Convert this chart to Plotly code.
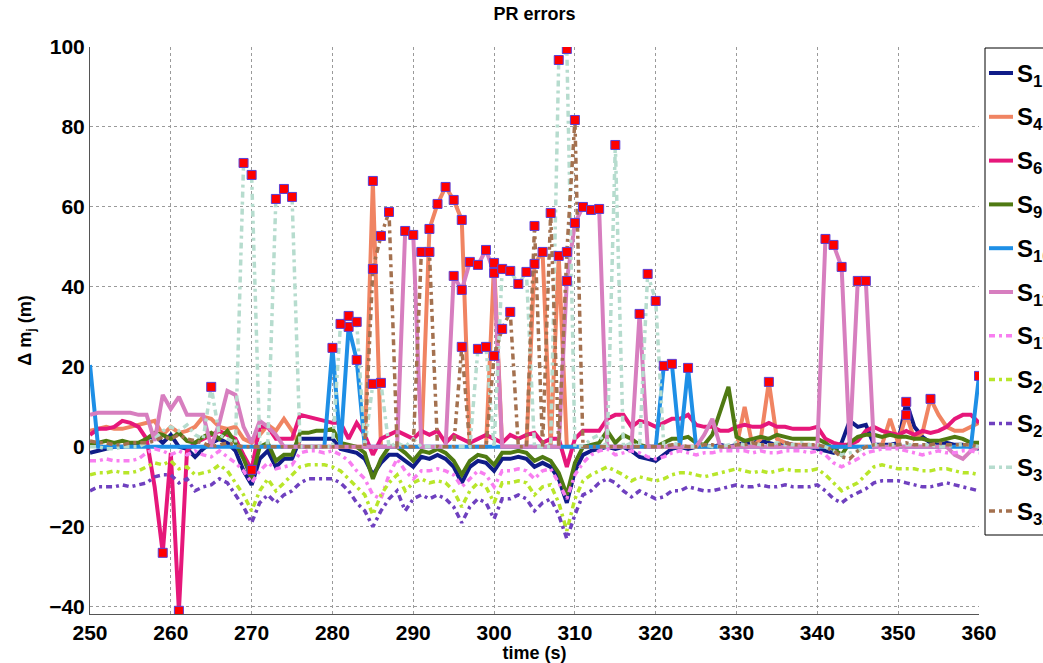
import plotly.graph_objects as go

t = list(range(250, 361))

S1 = [-1.5, -1, -0.5, 0, 0, 0.5, 1, 1.5, 3, 1,
      3, 0, -0.5, -2.5, -0.5, 1, 2, 1, -1, -6,
      -9.5, -3, -1, -5, -3, -3, 2, 2, 2, 2,
      2, -0.5, -1, -1.5, -3, -7, -4, -2, -2, -3.5,
      -5, -2.5, -3, -2, -3, -5, -9, -5, -3.5, -4,
      -6, -3, -3, -2.5, -3, -5, -4, -5, -8, -14,
      -6, -2, -1, -0.5, 0, -0.5, 0, -1, -2.5, -3,
      -3.5, -2, -0.5, 0, -0.5, 0, 0.5, 0, 0.5, 0,
      0.5, 1, 1, 1.5, 1, 0.5, 1, 0.5, 0, 0,
      -0.5, -1, -1.5, 1, 6.5, 5, 5.5, 0.5, 0.5, 0.5,
      1, 11.25, 5, 2.5, 1, 0.5, 1, 0.5, 0.5, 0,
      -0.5]

S4 = [4, 4.5, 5, 4.5, 4.5, 5, 5.5, 6, 6.5, 3,
      5, 3.5, 4, 5, 7.5, 7, 5, 4.5, 5, 2,
      1, 3, 5.5, 4, 7, 4, 0, 0, 0, 0,
      0, 0, 0, 0, 0, 66.5, 0, 0, 0, 0,
      0, 0, 54.5, 60.75, 65, 61.75, 56.75, 0, 0, 0,
      46, 0, 0, 0, 0, 45.75, 48.75, 0, 47.75, 0,
      0, 0, 0, 0, 0, 0, 0, 0, 0, 0,
      0, 0, 0, 0, 0, 0, 0, 0, 0, 0,
      0, 10, 0, 2, 16.25, 2, 1, 0.5, 0.5, 0.5,
      0, 0, 0, 0, 0, 0, 0, 0, 0.5, 7,
      1, 8, 2, 3.5, 12, 8, 5, 4, 4, 5,
      6]

S6 = [3, 4.5, 4.5, 5, 6.5, 6, 5, 2, -10, -26.5,
      -1.5, -41, -1, 1, 2, 3, 4, 3, 2, -2,
      -5.75, 5, 5, 2, 2, 2, 8, 7.5, 7, 6.5,
      6, 6, 2, 6, 3, -2, 2, 3, 4, 3,
      2, 4, 3, 4, 1, 3, 2, 1, 2, 3,
      2, 1, 3, 2, 3, 3.5, 1, 2, 2, -5,
      2, 4, 4, 4, 7, 8, 8, 5, 6.5, 6,
      5, 6, 7, 7, 8, 5.5, 5, 5, 4, 4,
      5, 5.5, 5, 5, 6, 5, 5, 4.5, 4.5, 4.5,
      5, 2, 1, 0.5, 0.5, 1.5, 4, 5, 4, 3.5,
      3, 4, 3, 4, 3.5, 4, 5, 7, 8, 8,
      6]

S9 = [0.5, 1, 1.5, 1, 1.5, 1, 1, 2, 3.5, 3,
      2, 3.5, 1.5, 1, 2.5, 3.5, 2, 4, 1, -3,
      -8, 0, 1, -3.5, -2, -2, 3.5, 3.5, 4, 4,
      4.5, 1, 0.5, 0, -1.5, -8, -3, 0, 0, -1.5,
      -3.5, -1, -1.5, -0.5, -1.5, -3.5, -7, -3.5, -2, -2.5,
      -4.5, -1.5, -1.5, -1, -1.5, -3.5, -2.5, -3.5, -6.5, -12,
      -4, 0, 0.5, 1, 4, 1, 3, 2, 0.5, 0,
      0, 1, 2, 2, 2.5, 1, 0.5, 3, 9, 15,
      2.5, 1.5, 2, 2.5, 2, 3, 2.5, 2, 2, 2,
      2, 1, -0.5, -2, 1, 2.5, 3, 3, 2.5, 3,
      2.5, 2.5, 2, 2, 1.5, 1.5, 2, 2.5, 2, 1,
      1]

S10 = [20.5, 0, 0, 0, 0, 0, 0, 0, 0, 0,
       0, 0, 0, 0, 0, 0, 0, 0, 0, 0,
       0, 0, 0, 0, 0, 0, 0, 0, 0, 0,
       24.75, 0, 30, 21.75, 0, 0, 0, 0, 0, 0,
       0, 0, 0, 0, 0, 0, 0, 0, 0, 0,
       0, 0, 0, 0, 0, 0, 0, 0, 0, 0,
       0, 0, 0, 0, 0, 0, 0, 0, 0, 0,
       0, 20.25, 20.75, 0, 19.75, 0, 0, 0, 0, 0,
       0, 0, 0, 0, 0, 0, 0, 0, 0, 0,
       0, 0, 0, 0, 0, 0, 0, 0, 0, 0,
       0, 0, 0, 0, 0, 0, 0, 0, 0, 0,
       17.75]

S11 = [8, 8.5, 8.5, 8.5, 8.5, 8.5, 8, 8, 1.5, 13,
       9.5, 12.5, 8, 8, 8, 0, 6, 14, 13, 5,
       1, 6.5, 5, 3, 0, 0, 0, 0, 0, 0,
       0, 0, 0, 0, 0, 0, 0, 0, 0, 54,
       53, 0, 0, 0, 0, 42.75, 39.25, 46.25, 45.5, 49.25,
       43.5, 0, 0, 0, 0, 0, 0, 0, 0, 41.5,
       56, 60, 59.25, 59.5, 0, 0, 0, 0, 33.25, 0,
       0, 0, 0, 0, 0, 0, 3, 7, 0, 0,
       0, 0, 0, 0, 0, 0, 0, 0, 0, 0,
       0, 52, 50.5, 45, 0, 41.5, 41.5, 0, 0, 0,
       0, 0, 0, 0, 0, 0, 0, -2, -3, -1,
       0]

S17 = [-3.5, -3.5, -3, -3.5, -3.5, -3.5, -3, -1.5, -0.5, -1,
       -2, -1, -2, -1, -2, -2.5, -1, -2.5, -4, -6,
       -9, -6, -4, -5.5, -5, -4.5, -1.5, -1, -1, -1.5,
       -1, -2, -3.5, -6, -8, -12, -13, -7, -3, -6,
       -8, -6, -6, -5.5, -6, -7, -10, -8, -6, -7,
       -10, -6, -6, -5.5, -6, -8, -6, -5.5, -9, -13,
       -7, -4, -2, -1, -0.5, -2, -1.5, -1, -1.5, -2.5,
       -3, -2.5, -1.5, -1, -1.5, -2, -1.5, -1.5, -1, -1,
       -1, -1, -1.5, -1, -1.5, -1.5, -1, -1, -1, -1.5,
       -1, -2, -4, -5, -4, -3, -1.5, -1, -0.5, -0.5,
       -0.5, -1, -1.5, -2, -1.5, -1, -1.5, -1.5, -1, -1,
       -1.5]

S20 = [-7, -6.5, -6.5, -6, -6.5, -6.5, -6, -5, -4, -4.5,
       -3.5, -5.5, -5, -7, -6.5, -6, -4.5, -6, -9, -12,
       -16, -11, -8, -11, -9, -7, -5, -4.5, -4.5, -4.5,
       -5, -6, -8, -10, -12, -17, -12, -9, -7, -11,
       -9, -8, -9, -8.5, -9, -11, -15, -11, -9, -10,
       -14, -9, -9, -8.5, -9, -12, -10, -9.5, -14, -21,
       -13, -8.5, -7, -6, -5, -6, -7, -8.5, -7.5, -8,
       -8.5, -8, -7, -6.5, -6.5, -7, -7.5, -7, -6.5, -6,
       -5.5, -6, -6.5, -6, -6.5, -6, -5.5, -6, -6, -6,
       -5.5, -7, -9, -11, -10, -9, -7, -5, -4.5, -5,
       -5.5, -5.5, -5.5, -6, -6, -5.5, -5.5, -6, -6.5, -6.5,
       -7]

S23 = [-11, -10, -10, -10, -9.5, -10, -9.5, -9, -7.5, -7,
       -7, -9, -8, -11, -10, -9.5, -8, -9, -12, -15,
       -19, -14, -12, -14, -12, -11, -9, -8, -8, -8,
       -8, -9, -11, -14, -16, -20, -16, -13, -11, -16,
       -13, -12, -13, -12, -13, -15, -19, -15, -13, -14,
       -18, -13, -13, -12, -13, -16, -14, -13, -17, -23,
       -17, -12, -11, -9, -8, -9, -11, -12.5, -11, -12,
       -13, -12.5, -11, -11, -10, -10.5, -11, -11, -10.5, -10,
       -9.5, -10, -10, -9.5, -10, -10, -9.5, -10, -10, -10,
       -9.5, -11, -13, -14, -12.5, -11.5, -10.5, -9, -8.5, -8.5,
       -8.5, -9, -9.5, -10, -10, -9.5, -9, -9.5, -10, -10.5,
       -11]

S31 = [0, 0, -0.5, -0.5, 0, 0, 0, 1, 2, 4,
       5, 4, 5.5, 3, 2, 15, 3, 2, 1, 71,
       68, 1, 1, 62, 64.5, 62.5, 0, 0, 0, 0,
       0, 30.75, 32.75, 31.25, 0, 15.75, 16, 0, 1, 0,
       2, 0, 0, 0, 0, 0, 0, 0, 24.5, 25,
       0, 44.5, 44, 40.75, 43.75, 0, 0, 0, 96.75, 99.5,
       0, 0, 2, 3, 0, 75.5, 0, 1, 0, 43.25,
       36.5, 0, 1, 0.5, 0, 0, 0.5, 0, 0, 0.5,
       1, 0.5, 1, 0.5, 0.5, 1, 0.5, 0.5, 1, 0.5,
       0.5, 0, -1, -2, -1.5, -1, 0, 0.5, 0.5, 0.5,
       0.5, 0.5, 0.5, 0.5, 0.5, 0, 0, 0.5, 0.5, 0.5,
       0]

S32 = [1.5, 1, 1, 0.5, 0.5, 1, 1, 1, 1.5, 2.5,
       2, 3, 2, 1.5, 1, 0, 0.5, 1, 0.5, 0,
       0, 0, 0, 0, 0, 0, 0, 0, 0, 0,
       0, 0, 0, 0, 0, 44.5, 52.75, 58.75, 0, 0,
       0, 48.75, 48.75, 0, 0, 0, 25, 0, 0, 0,
       22.75, 29.5, 33.75, 0, 0, 55.25, 0, 58.5, 0, 48.75,
       81.75, 0, 0, 0, 0, 0, 0, 0, 0, 0,
       0, 0, 0.5, 0.5, 0, 0, 0.5, 0.5, 0, 0,
       0.5, 0.5, 1, 0.5, 0.5, 0.5, 1, 0.5, 0.5, 0.5,
       0.5, 0, -1, -2.5, -3, -1, 0, 0.5, 0.5, 0.5,
       0.5, 1, 0.5, 0.5, 0.5, 1, 0.5, 0.5, 0.5, 0.5,
       0]

names = ["S1", "S4", "S6", "S9", "S10", "S11", "S17", "S20", "S23", "S31", "S32"]
values = [S1, S4, S6, S9, S10, S11, S17, S20, S23, S31, S32]
labels = ["S<sub>1</sub>", "S<sub>4</sub>", "S<sub>6</sub>", "S<sub>9</sub>", "S<sub>10</sub>",
          "S<sub>11</sub>", "S<sub>17</sub>", "S<sub>20</sub>", "S<sub>23</sub>",
          "S<sub>31</sub>", "S<sub>32</sub>"]
colors = ["#101C88", "#F08462", "#E6177A", "#4F7A12", "#1E8FE6", "#D77EBF",
          "#F87EF0", "#B8E62A", "#6F40BF", "#B6DCCE", "#A4714F"]
dashed = [False, False, False, False, False, False, True, True, True, True, True]

# epochs flagged as faulty (red squares), per satellite
flags = {
    "S1": [351],
    "S4": [285, 292, 293, 294, 295, 296, 300, 305, 306, 308, 334, 351, 354],
    "S6": [259, 261, 270],
    "S10": [280, 282, 283, 321, 322, 324, 360],
    "S11": [289, 290, 295, 296, 297, 298, 299, 300, 309, 310, 311, 312, 313, 318,
            341, 342, 343, 345, 346],
    "S31": [265, 269, 270, 273, 274, 275, 281, 282, 283, 285, 286, 298, 299, 301,
            302, 303, 304, 308, 309, 315, 319, 320],
    "S32": [285, 286, 287, 291, 292, 296, 300, 301, 302, 305, 307, 309, 310],
}

DASH = "6px,4px,3px,4px"
fig = go.Figure()
for nm, v, lab, c, d in zip(names, values, labels, colors, dashed):
    assert len(v) == len(t), nm
    fig.add_trace(go.Scatter(
        x=t, y=v, mode="lines", name=nm, showlegend=False,
        line=dict(color=c, width=3.5 if d else 4, dash=DASH if d else "solid"),
    ))

mx, my = [], []
for nm, v in zip(names, values):
    for tt in flags.get(nm, []):
        mx.append(tt)
        my.append(v[t.index(tt)])
fig.add_trace(go.Scatter(
    x=mx, y=my, mode="markers", showlegend=False,
    marker=dict(symbol="square", size=9, color="#FF0000",
                line=dict(color="#5B3FD6", width=1)),
))

# layout geometry (pixels of the plot area)
W, H = 1043, 663
PL, PR, PT, PB = 90, 979, 47, 614


def px(X):
    return (X - PL) / (PR - PL)


def py(Y):
    return (PB - Y) / (PB - PT)


# hand-drawn legend box (cut by the right edge as in the original)
shapes = [dict(type="rect", xref="paper", yref="paper", x0=px(985), x1=px(1075),
               y0=py(535), y1=py(48), line=dict(color="black", width=1),
               fillcolor="white", layer="above")]
annotations = []
for i, (lab, c, d) in enumerate(zip(labels, colors, dashed)):
    yc = 70 + 43.8 * i
    shapes.append(dict(type="line", xref="paper", yref="paper",
                       x0=px(989), x1=px(1013), y0=py(yc + 3), y1=py(yc + 3),
                       line=dict(color=c, width=3.5 if d else 4,
                                 dash=DASH if d else "solid"),
                       layer="above"))
    annotations.append(dict(text=lab, xref="paper", yref="paper", x=px(1015), y=py(yc + 5),
                            xanchor="left", yanchor="middle", showarrow=False,
                            font=dict(family="Liberation Sans", size=24, color="black",
                                      weight="bold")))

tickfont = dict(family="Liberation Sans", size=21, color="black", weight="bold")
labfont = dict(family="Liberation Sans", size=18, color="black", weight="bold")
fig.update_layout(
    width=W, height=H,
    margin=dict(l=PL, r=W - PR, t=PT, b=H - PB, autoexpand=False),
    paper_bgcolor="white", plot_bgcolor="white",
    title=dict(text="PR errors", x=0.5, xref="paper", y=1 - 14 / H, yref="container",
               xanchor="center", yanchor="middle", font=labfont),
    xaxis=dict(range=[250, 360], tickvals=list(range(250, 361, 10)),
               showgrid=True, gridcolor="#9a9a9a", griddash="dot", gridwidth=1,
               showline=True, linecolor="#555555", linewidth=1, zeroline=False,
               ticks="", tickfont=tickfont,
               title=dict(text="time (s)", standoff=0, font=labfont)),
    yaxis=dict(range=[-41.8, 100], tickvals=list(range(-40, 101, 20)),
               showgrid=True, gridcolor="#9a9a9a", griddash="dot", gridwidth=1,
               showline=True, linecolor="#555555", linewidth=1, zeroline=False,
               ticks="", tickfont=tickfont,
               title=dict(text="Δ m<sub>j</sub> (m)", standoff=12, font=labfont)),
    shapes=shapes,
    annotations=annotations,
    showlegend=False,
)

fig.write_html(
    "out.html",
    config={"displayModeBar": False},
    post_script="document.body.style.margin='0';document.body.style.overflow='hidden';",
)
